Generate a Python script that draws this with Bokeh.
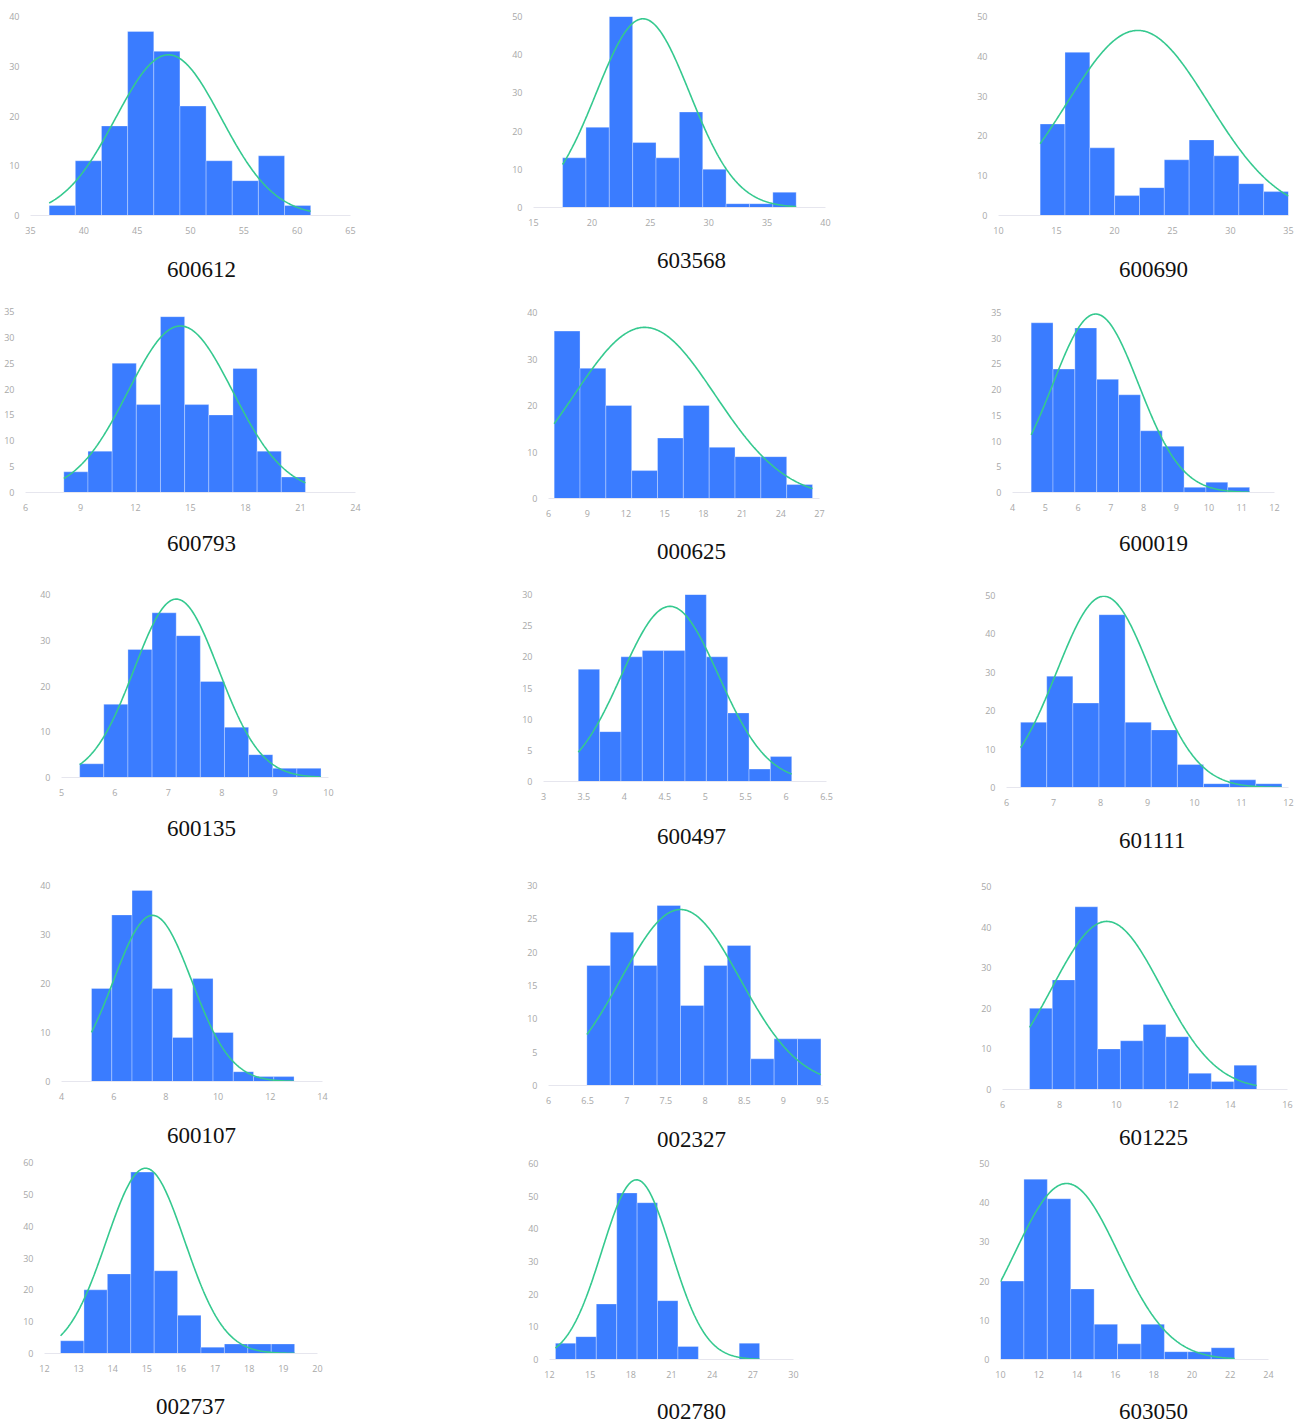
import numpy as np
from bokeh.plotting import figure
from bokeh.layouts import row, column
from bokeh.models import Range1d, FixedTicker, NumeralTickFormatter, Title
from bokeh.embed import file_html
from bokeh.resources import INLINE

# ---------------- data ----------------
codes = ["600612", "603568", "600690",
         "600793", "000625", "600019",
         "600135", "600497", "601111",
         "600107", "002327", "601225",
         "002737", "002780", "603050"]

counts_600612 = [2, 11, 18, 37, 33, 22, 11, 7, 12, 2]
counts_603568 = [13, 21, 50, 17, 13, 25, 10, 1, 1, 4]
counts_600690 = [23, 41, 17, 5, 7, 14, 19, 15, 8, 6]
counts_600793 = [4, 8, 25, 17, 34, 17, 15, 24, 8, 3]
counts_000625 = [36, 28, 20, 6, 13, 20, 11, 9, 9, 3]
counts_600019 = [33, 24, 32, 22, 19, 12, 9, 1, 2, 1]
counts_600135 = [3, 16, 28, 36, 31, 21, 11, 5, 2, 2]
counts_600497 = [18, 8, 20, 21, 21, 30, 20, 11, 2, 4]
counts_601111 = [17, 29, 22, 45, 17, 15, 6, 1, 2, 1]
counts_600107 = [19, 34, 39, 19, 9, 21, 10, 2, 1, 1]
counts_002327 = [18, 23, 18, 27, 12, 18, 21, 4, 7, 7]
counts_601225 = [20, 27, 45, 10, 12, 16, 13, 4, 2, 6]
counts_002737 = [4, 20, 25, 57, 26, 12, 2, 3, 3, 3]
counts_002780 = [5, 7, 17, 51, 48, 18, 4, 0, 0, 5]
counts_603050 = [20, 46, 41, 18, 9, 4, 9, 2, 2, 3]

counts = [counts_600612, counts_603568, counts_600690,
          counts_600793, counts_000625, counts_600019,
          counts_600135, counts_600497, counts_601111,
          counts_600107, counts_002327, counts_601225,
          counts_002737, counts_002780, counts_603050]

bin_start = [36.75, 17.49, 13.59, 8.09, 6.44, 4.57, 5.34, 3.43, 6.30, 5.15, 6.49, 6.95, 12.47, 12.44, 10.00]
bin_width = [2.452, 2.0, 2.141, 1.318, 2.002, 0.667, 0.452, 0.264, 0.556, 0.776, 0.299, 0.797, 0.686, 1.506, 1.223]

# fitted normal curve: mean, standard deviation, peak height
curve_mean = [47.93, 24.37, 22.01, 14.45, 13.45, 6.54, 7.15, 4.564, 8.07, 7.49, 7.686, 9.66, 14.96, 18.42, 13.45]
curve_sd = [4.95, 4.0, 6.12, 2.86, 5.45, 1.31, 0.79, 0.60, 1.0, 1.5, 0.76, 1.92, 1.15, 2.55, 2.7]
curve_peak = [32.3, 49.4, 46.5, 32.2, 36.8, 34.7, 39.0, 28.1, 49.8, 33.9, 26.4, 41.4, 58.2, 55.0, 44.9]

# axis ticks
x_min = [35, 15, 10, 6, 6, 4, 5, 3, 6, 4, 6, 6, 12, 12, 10]
x_max = [65, 40, 35, 24, 27, 12, 10, 6.5, 12, 14, 9.5, 16, 20, 30, 24]
x_step = [5, 5, 5, 3, 3, 1, 1, 0.5, 1, 2, 0.5, 2, 1, 3, 2]
y_max = [40, 50, 50, 35, 40, 35, 40, 30, 50, 40, 30, 50, 60, 60, 50]
y_step = [10, 10, 10, 5, 10, 5, 10, 5, 10, 10, 5, 10, 10, 10, 10]

# ---------------- layout (screen pixels) ----------------
col_edges = [0, 478, 948, 1303]
row_edges = [0, 288, 572, 862, 1154, 1425]
# frame left, right, top, bottom, title centre x, title centre y
frames = [
    (30, 350, 16, 215, 201, 269), (533, 825, 16, 207, 691, 260), (998, 1288, 16, 215, 1153, 269),
    (25, 355, 311, 492, 201, 543), (548, 819, 312, 498, 691, 551), (1012, 1274, 312, 492, 1153, 543),
    (61, 328, 594, 777, 201, 828), (543, 826, 594, 781, 691, 836), (1006, 1288, 595, 787, 1153, 840),
    (61, 322, 885, 1081, 201, 1135), (548, 822, 885, 1085, 691, 1139), (1002, 1287, 886, 1089, 1153, 1137),
    (44, 317, 1162, 1353, 190, 1406), (549, 793, 1163, 1359, 691, 1411), (1000, 1268, 1163, 1359, 1153, 1411),
]

BAR = "#3a7cff"
LINE = "#35c98f"
TICK = "#a8a8a8"

TITLE_PX = 23


def make_panel(i):
    L, R, T, B, tcx, tcy = frames[i]
    ci, ri = i % 3, i // 3
    cl, cr = col_edges[ci], col_edges[ci + 1]
    rt, rb = row_edges[ri], row_edges[ri + 1]
    bottom_border = rb - B
    p = figure(width=cr - cl, height=rb - rt, output_backend="svg", toolbar_location=None,
               min_border_left=L - cl, min_border_right=cr - R,
               min_border_top=T - rt, min_border_bottom=bottom_border,
               x_range=Range1d(x_min[i], x_max[i]), y_range=Range1d(0, y_max[i]))
    p.frame_align = False
    p.outline_line_color = None
    p.xgrid.visible = False
    p.ygrid.visible = False
    p.background_fill_color = "white"
    p.border_fill_color = "white"

    n = len(counts[i])
    edges = bin_start[i] + bin_width[i] * np.arange(n + 1)
    p.quad(left=edges[:-1], right=edges[1:], bottom=0, top=counts[i],
           fill_color=BAR, line_color="white", line_alpha=0.3, line_width=1)

    xs = np.linspace(edges[0], edges[-1], 300)
    ys = curve_peak[i] * np.exp(-((xs - curve_mean[i]) ** 2) / (2 * curve_sd[i] ** 2))
    p.line(xs, ys, line_color=LINE, line_width=1.6)

    xt = list(np.round(np.arange(x_min[i], x_max[i] + x_step[i] / 2, x_step[i]), 3))
    yt = list(np.arange(0, y_max[i] + y_step[i] / 2, y_step[i]))
    for ax, ticks in ((p.xaxis[0], xt), (p.yaxis[0], yt)):
        ax.ticker = FixedTicker(ticks=ticks)
        ax.formatter = NumeralTickFormatter(format="0.[0]")
        ax.major_tick_line_color = None
        ax.minor_tick_line_color = None
        ax.major_label_text_font = "Open Sans"
        ax.major_label_text_font_size = "9px"
        ax.major_label_text_color = TICK
    p.xaxis.axis_line_color = "#e6e6ee"
    p.xaxis.major_label_standoff = 5
    p.yaxis.axis_line_color = None
    p.yaxis.major_label_standoff = 5

    # spacer between the axis and the stock-code caption
    gap = max(0, (tcy - B) - 34)
    p.add_layout(Title(text=" ", text_font_size="1px", standoff=int(round(gap))), "below")
    text_w = len(codes[i]) * 0.5 * TITLE_PX
    t = Title(text=codes[i], align="left", text_font="Liberation Serif",
              text_font_size=f"{TITLE_PX}px", text_font_style="normal", text_color="#111111",
              standoff=0, offset=tcx - text_w / 2 - L)
    p.add_layout(t, "below")
    return p


panels = [make_panel(i) for i in range(15)]
layout = column([row(panels[r * 3:(r + 1) * 3]) for r in range(5)])

open("out.html", "w").write(file_html(layout, INLINE))
